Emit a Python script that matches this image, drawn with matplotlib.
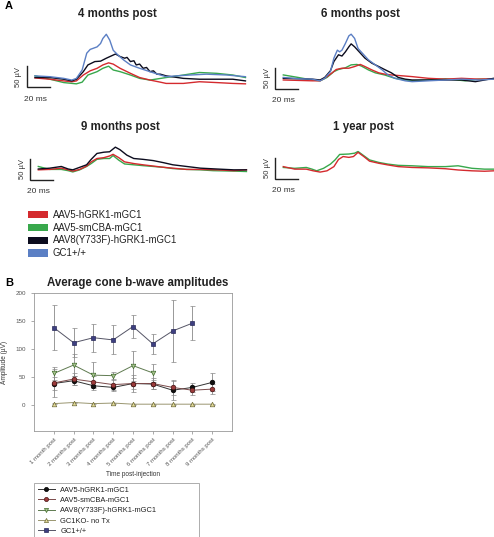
import matplotlib
matplotlib.use("Agg")
import matplotlib.pyplot as plt
from matplotlib.patches import Patch
from matplotlib.lines import Line2D

plt.rcParams['font.family'] = ['Liberation Sans', 'DejaVu Sans']

W, H = 494, 537

# =====================================
# DATA - PANEL A (ERG traces, time in ms, amplitude in uV)
# =====================================

m4_blue_t = [0, 13, 25, 32, 36, 41, 45, 48, 54, 57, 59, 62, 65, 68, 72, 77, 83, 91, 100, 109, 114, 123, 135, 149, 167, 183]
m4_blue_v = [2, 0, -4, -8, -4, 16, 56, 65, 71, 79, 91, 101, 87, 63, 52, 40, 28, 20, 12, 4, 0, 2, 4, 6, 4, 0]
m4_black_t = [0, 13, 25, 32, 36, 42, 46, 52, 57, 62, 70, 74, 78, 80, 83, 86, 88, 91, 94, 97, 100, 103, 106, 109, 114, 129, 143, 158, 172, 183]
m4_black_v = [-2, -2, -6, -10, -6, 12, 28, 36, 37, 44, 54, 48, 44, 46, 36, 38, 28, 30, 20, 22, 12, 14, 6, 6, 2, -4, -6, -6, -6, -10]
m4_red_t = [0, 13, 25, 32, 36, 42, 48, 54, 59, 64, 68, 74, 83, 91, 100, 109, 114, 129, 143, 158, 172, 183]
m4_red_v = [-3, -6, -10, -12, -10, 4, 14, 20, 28, 33, 30, 20, 8, -2, -8, -13, -16, -16, -12, -14, -16, -17]
m4_green_t = [0, 13, 25, 36, 41, 46, 54, 59, 64, 68, 74, 83, 91, 100, 114, 129, 143, 158, 172, 183]
m4_green_v = [2, -6, -14, -17, -13, 4, 12, 20, 25, 16, 12, 4, -4, -8, -2, 4, 10, 8, 4, -2]

m6_blue_t = [0, 13, 25, 32, 36, 41, 44, 47, 49, 51, 54, 57, 59, 62, 65, 70, 74, 80, 86, 91, 97, 106, 112, 126, 141, 155, 170, 183]
m6_blue_v = [2, -1, -2, -6, 0, 16, 48, 67, 63, 67, 83, 101, 105, 95, 71, 56, 44, 32, 20, 8, 0, -6, -8, -6, -4, -2, -4, -2]
m6_black_t = [0, 13, 25, 32, 36, 41, 44, 48, 51, 54, 57, 59, 62, 67, 71, 77, 83, 88, 94, 100, 106, 112, 126, 141, 155, 167, 183]
m6_black_v = [0, -1, -2, -4, 2, 18, 40, 56, 53, 63, 75, 82, 75, 60, 48, 36, 28, 21, 13, 2, -2, -4, -4, -4, -4, -8, 0]
m6_red_t = [0, 13, 25, 32, 38, 42, 46, 51, 57, 62, 67, 71, 77, 83, 88, 94, 103, 112, 126, 141, 155, 170, 183]
m6_red_v = [-4, -5, -6, -6, 4, 12, 21, 24, 24, 28, 33, 28, 20, 13, 10, 8, 6, 4, 0, -2, 0, -2, -1]
m6_green_t = [0, 13, 25, 32, 38, 44, 48, 54, 59, 64, 68, 74, 80, 88, 97, 106, 112, 126, 141, 158, 170, 183]
m6_green_v = [8, 2, -4, -6, 2, 16, 21, 25, 32, 33, 29, 20, 13, 8, 0, -4, -6, -4, -1, -6, -2, -2]

m9_black_t = [0, 10, 20, 26, 30, 36, 42, 46, 51, 57, 62, 67, 71, 77, 83, 91, 100, 109, 117, 129, 141, 155, 170, 181]
m9_black_v = [0, 2, 6, 0, -2, 4, 10, 23, 37, 40, 41, 52, 46, 33, 25, 23, 20, 15, 10, 6, 2, 0, -2, -2]
m9_red_t = [0, 10, 20, 26, 30, 36, 42, 46, 51, 57, 62, 65, 70, 75, 83, 91, 100, 109, 117, 129, 141, 155, 170, 181]
m9_red_v = [-2, -1, 2, -2, -5, -1, 7, 17, 25, 27, 31, 35, 27, 17, 13, 10, 7, 4, 2, -1, -1, -2, -4, -2]
m9_green_t = [0, 10, 20, 26, 30, 36, 42, 46, 51, 57, 62, 65, 70, 75, 83, 91, 100, 109, 117, 129, 141, 152, 170, 181]
m9_green_v = [6, -1, -1, -4, -7, -2, 6, 13, 23, 25, 25, 32, 21, 12, 10, 8, 6, 4, 1, -1, -2, -4, -5, -6]

y1_green_t = [0, 10, 20, 25, 29, 35, 41, 45, 49, 57, 62, 65, 70, 75, 83, 91, 100, 112, 126, 141, 152, 164, 175, 183]
y1_green_v = [2, 0, 2, -2, -6, 0, 10, 20, 33, 34, 36, 40, 30, 20, 14, 10, 7, 6, 4, 4, 6, 0, -2, -2]
y1_red_t = [0, 10, 20, 26, 32, 38, 44, 48, 52, 57, 61, 65, 70, 75, 83, 91, 100, 112, 126, 141, 152, 164, 175, 183]
y1_red_v = [4, -2, -2, -6, -9, -6, 4, 21, 28, 26, 28, 38, 28, 17, 12, 8, 4, 2, 1, -1, -4, -6, -7, -6]

# =====================================
# DATA - PANEL B (average cone b-wave amplitudes, uV)
# =====================================

months = ["1 month post", "2 months post", "3 months post", "4 months post", "5 months post",
          "6 months post", "7 months post", "8 months post", "9 months post"]

hgrk1_mean = [38, 43, 34, 31, 38, 37, 26, 31, 40]
hgrk1_err = [12, 8, 7, 6, 10, 8, 17, 8, 16]
smcba_mean = [39, 46, 41, 36, 38, 38, 31, 26, 28]
smcba_err = [25, 10, 10, 10, 15, 10, 14, 8, 9]
y733f_mean = [56, 71, 53, 52, 70, 57]
y733f_err = [12, 19, 23, 7, 27, 16]
ko_mean = [2, 4, 2, 3, 1, 1, 1, 1, 1]
ko_err = [1, 1, 1, 1, 1, 1, 1, 1, 1]
wt_mean = [138, 111, 120, 116, 140, 109, 132, 146]
wt_err = [40, 26, 25, 26, 21, 18, 55, 31]

RED = "#d42a2e"
GREEN = "#38a84c"
BLACK = "#0c0c1e"
BLUE = "#5b7fc4"

fig = plt.figure(figsize=(W / 100, H / 100), dpi=100)


def px_axes(left, top, right, bottom):
    return fig.add_axes([left / W, 1 - bottom / H, (right - left) / W, (bottom - top) / H])


def fig_text(x, y, s, **kw):
    fig.text(x / W, 1 - y / H, s, **kw)


# =====================================
# PANEL A
# =====================================

PX_MS = 1.15
PX_UV = 0.42


def erg_panel(x0, base, title, title_x, title_y, traces):
    ax = px_axes(x0 - 30, base - 60, x0 + 215, base + 35)
    ax.set_xlim(-30 / PX_MS, 215 / PX_MS)
    ax.set_ylim(-35 / PX_UV, 60 / PX_UV)
    ax.axis("off")
    for t, v, c in traces:
        ax.plot(t, v, color=c, lw=1.0)
    # scale bar
    bx = -7
    ax.plot([bx, bx, bx + 20], [25, -25, -25], color="#222222", lw=1.0, solid_joinstyle="miter")
    ax.text(bx - 8 / PX_MS, 0, "50 µV", rotation=90, ha="center", va="center", fontsize=5.5, color="#333333")
    ax.text(bx + 7, -25 - 12 / PX_UV, "20 ms", ha="center", va="center", fontsize=6, color="#333333")
    fig_text(title_x, title_y, title, ha="center", va="center", fontsize=8.3, fontweight="bold", color="#222222")


erg_panel(35, 76.7, "4 months post", 117, 14,
          [(m4_green_t, m4_green_v, GREEN), (m4_red_t, m4_red_v, RED),
           (m4_black_t, m4_black_v, BLACK), (m4_blue_t, m4_blue_v, BLUE)])
erg_panel(283.3, 78.3, "6 months post", 360, 14,
          [(m6_green_t, m6_green_v, GREEN), (m6_red_t, m6_red_v, RED),
           (m6_black_t, m6_black_v, BLACK), (m6_blue_t, m6_blue_v, BLUE)])
erg_panel(38.3, 169, "9 months post", 120, 127,
          [(m9_green_t, m9_green_v, GREEN), (m9_red_t, m9_red_v, RED),
           (m9_black_t, m9_black_v, BLACK)])
erg_panel(283.3, 168.3, "1 year post", 363, 127,
          [(y1_green_t, y1_green_v, GREEN), (y1_red_t, y1_red_v, RED)])

fig_text(5, 6, "A", fontsize=8, fontweight="bold", ha="left", va="center")
fig_text(5, 283, "B", fontsize=8, fontweight="bold", ha="left", va="center")

leg_a = fig.legend(
    handles=[Patch(facecolor=c, edgecolor="none") for c in [RED, GREEN, BLACK, BLUE]],
    labels=["AAV5-hGRK1-mGC1", "AAV5-smCBA-mGC1", "AAV8(Y733F)-hGRK1-mGC1", "GC1+/+"],
    loc="upper left", bbox_to_anchor=(21 / W, 1 - 203 / H), frameon=False, fontsize=6.9,
    handlelength=2.1, handleheight=0.75, handletextpad=0.5, labelspacing=0.3, borderpad=0.2)
for t in leg_a.get_texts():
    t.set_color("#222222")

# =====================================
# PANEL B
# =====================================

axb = px_axes(34, 293, 232, 431)
x = list(range(len(months)))

series = [
    ("AAV5-hGRK1-mGC1", hgrk1_mean, hgrk1_err, "o", "#111111", "#000000", "#333333"),
    ("AAV5-smCBA-mGC1", smcba_mean, smcba_err, "o", "#9b3b3b", "#4a1818", "#7a4a4a"),
    ("AAV8(Y733F)-hGRK1-mGC1", y733f_mean, y733f_err, "v", "#a8c490", "#3f6b2a", "#5f7a50"),
    ("GC1KO- no Tx", ko_mean, ko_err, "^", "#e2da96", "#6e6a3a", "#9a9670"),
    ("GC1+/+", wt_mean, wt_err, "s", "#3d3f80", "#2a2a5a", "#555566"),
]

handles = []
for name, mean, err, mk, fc, ec, lc in series:
    xs = x[:len(mean)]
    axb.errorbar(xs, mean, yerr=err, color=lc, lw=0.7, ecolor="#888888", elinewidth=0.6,
                 capsize=1.8, capthick=0.6, marker=mk, markersize=3.3,
                 markerfacecolor=fc, markeredgecolor=ec, markeredgewidth=0.5)
    handles.append(Line2D([0], [0], color=lc, lw=0.7, marker=mk, markersize=3,
                          markerfacecolor=fc, markeredgecolor=ec, markeredgewidth=0.5))

axb.set_xlim(-1, 9)
axb.set_ylim(-47, 200)
axb.set_yticks([0, 50, 100, 150, 200])
axb.set_xticks(x)
axb.set_xticklabels(months, rotation=45, ha="right", rotation_mode="anchor", fontsize=4.3, color="#555555")
axb.tick_params(axis="y", labelsize=4.5, labelcolor="#555555", length=2, width=0.5, color="#888888", pad=4)
axb.tick_params(axis="x", length=2, width=0.5, color="#888888", pad=2)
for s in axb.spines.values():
    s.set_color("#999999")
    s.set_linewidth(0.6)
axb.set_ylabel("Amplitude (µV)", fontsize=4.7, color="#333333", labelpad=5)
fig_text(133, 474, "Time post-injection", ha="center", va="center", fontsize=4.7, color="#333333")
fig_text(138, 283, "Average cone b-wave amplitudes", ha="center", va="center", fontsize=8.3,
         fontweight="bold", color="#222222")

leg_b = fig.legend(handles, [s[0] for s in series], loc="upper left", mode="expand",
                   bbox_to_anchor=(34 / W, 1 - 482.5 / H, 165 / W, 0.0), fontsize=5.4, frameon=True,
                   fancybox=False, edgecolor="#888888", handlelength=2.3, handletextpad=0.7,
                   labelspacing=0.42, borderpad=0.5, borderaxespad=0)
leg_b.get_frame().set_linewidth(0.6)
for t in leg_b.get_texts():
    t.set_color("#222222")

fig.savefig("out.png", dpi=100, facecolor="white")
